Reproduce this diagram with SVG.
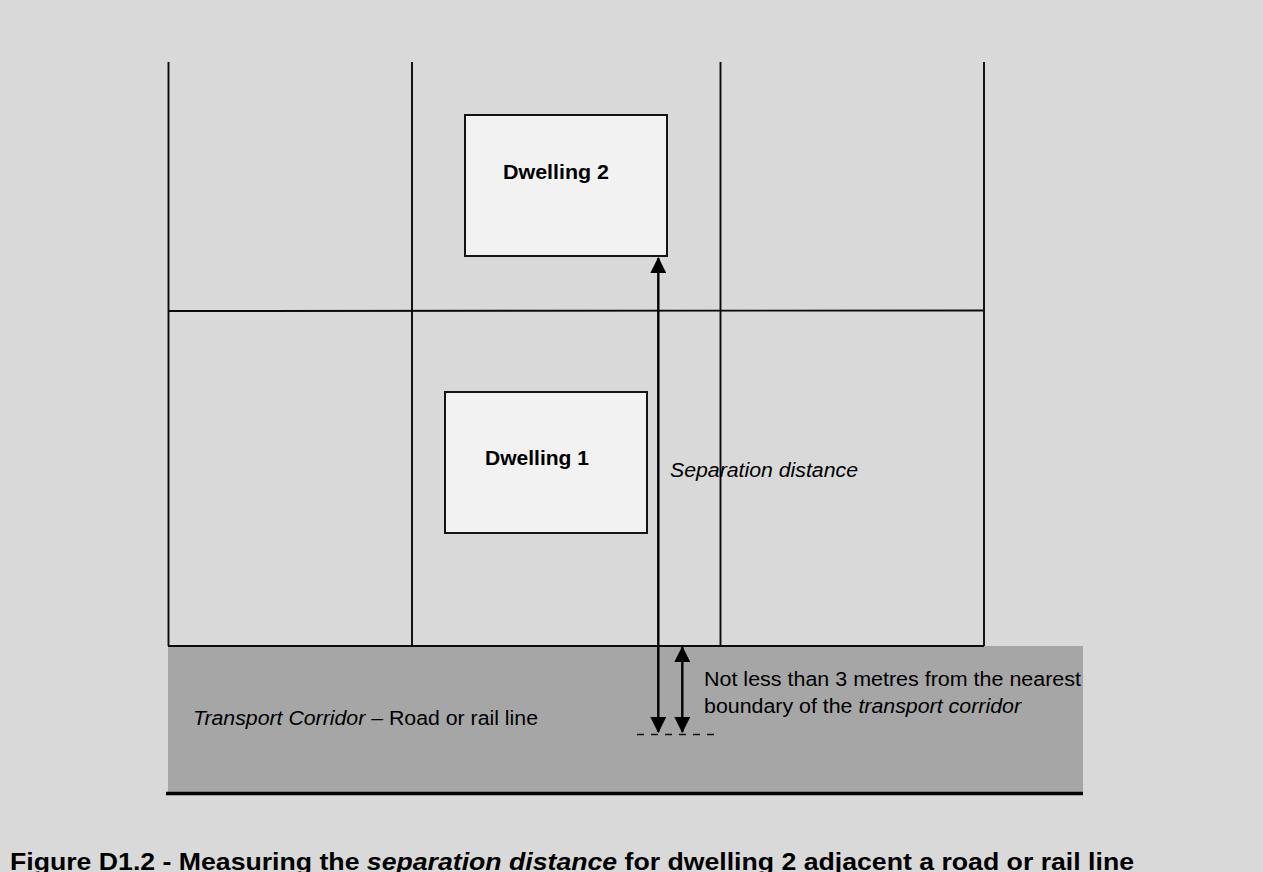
<svg xmlns="http://www.w3.org/2000/svg" width="1263" height="872" viewBox="0 0 1263 872">
<style>
.ln{stroke:#0a0a0a;stroke-width:1.9;fill:none}
.dw{fill:#f2f2f2;stroke:#0a0a0a;stroke-width:1.9}
.t{font-family:"Liberation Sans",Arial,sans-serif;font-size:19.5px;fill:#000}
.b{font-weight:bold}
.i{font-style:italic}
.arr{stroke:#000;stroke-width:2.4;fill:none}
</style>
<defs>
<marker id="ah" viewBox="0 0 16 16" refX="15" refY="8" markerWidth="16" markerHeight="16" markerUnits="userSpaceOnUse" orient="auto-start-reverse">
<path d="M0,0 L16,8 L0,16 Z" fill="#000"/>
</marker>
</defs>
<rect x="0" y="0" width="1263" height="872" fill="#d9d9d9"/>
<g id="corridor">
<rect x="168" y="646" width="915" height="147" fill="#a6a6a6"/>
<line x1="166" y1="793.5" x2="1083" y2="793.5" stroke="#000" stroke-width="3.5"/>
<text class="t" x="193" y="725" textLength="345" lengthAdjust="spacingAndGlyphs"><tspan class="i">Transport Corridor</tspan> – Road or rail line</text>
</g>
<g id="lots">
<line class="ln" x1="168.5" y1="62" x2="168.5" y2="646"/>
<line class="ln" x1="412" y1="62" x2="412" y2="646"/>
<line class="ln" x1="720.5" y1="62" x2="720.5" y2="646"/>
<line class="ln" x1="984" y1="62" x2="984" y2="646"/>
<line class="ln" x1="168" y1="311" x2="984" y2="310.5"/>
<line class="ln" x1="168" y1="646" x2="984" y2="646"/>
</g>
<g id="dwelling2">
<rect class="dw" x="465" y="115" width="202" height="141"/>
<text class="t b" x="503" y="179" textLength="106" lengthAdjust="spacingAndGlyphs">Dwelling 2</text>
</g>
<g id="dwelling1">
<rect class="dw" x="445" y="392" width="202" height="141"/>
<text class="t b" x="485" y="465" textLength="104" lengthAdjust="spacingAndGlyphs">Dwelling 1</text>
</g>
<g id="connectors">
<line class="arr" x1="658.3" y1="258" x2="658.3" y2="732" marker-start="url(#ah)" marker-end="url(#ah)"/>
<line class="arr" x1="682.3" y1="647" x2="682.3" y2="732" marker-start="url(#ah)" marker-end="url(#ah)"/>
<line x1="637" y1="734.5" x2="716" y2="734.5" stroke="#111" stroke-width="1.6" stroke-dasharray="7 7"/>
</g>
<g id="labels">
<text class="t i" x="670" y="477" textLength="188" lengthAdjust="spacingAndGlyphs">Separation distance</text>
<text class="t" x="704" y="686" textLength="377" lengthAdjust="spacingAndGlyphs">Not less than 3 metres from the nearest</text>
<text class="t" x="704" y="713" textLength="317" lengthAdjust="spacingAndGlyphs">boundary of the <tspan class="i">transport corridor</tspan></text>
</g>
<g id="caption">
<text class="t b" x="10" y="870" style="font-size:24.5px" textLength="1124" lengthAdjust="spacingAndGlyphs">Figure D1.2 - Measuring the <tspan class="i">separation distance</tspan> for dwelling 2 adjacent a road or rail line</text>
</g>
</svg>
